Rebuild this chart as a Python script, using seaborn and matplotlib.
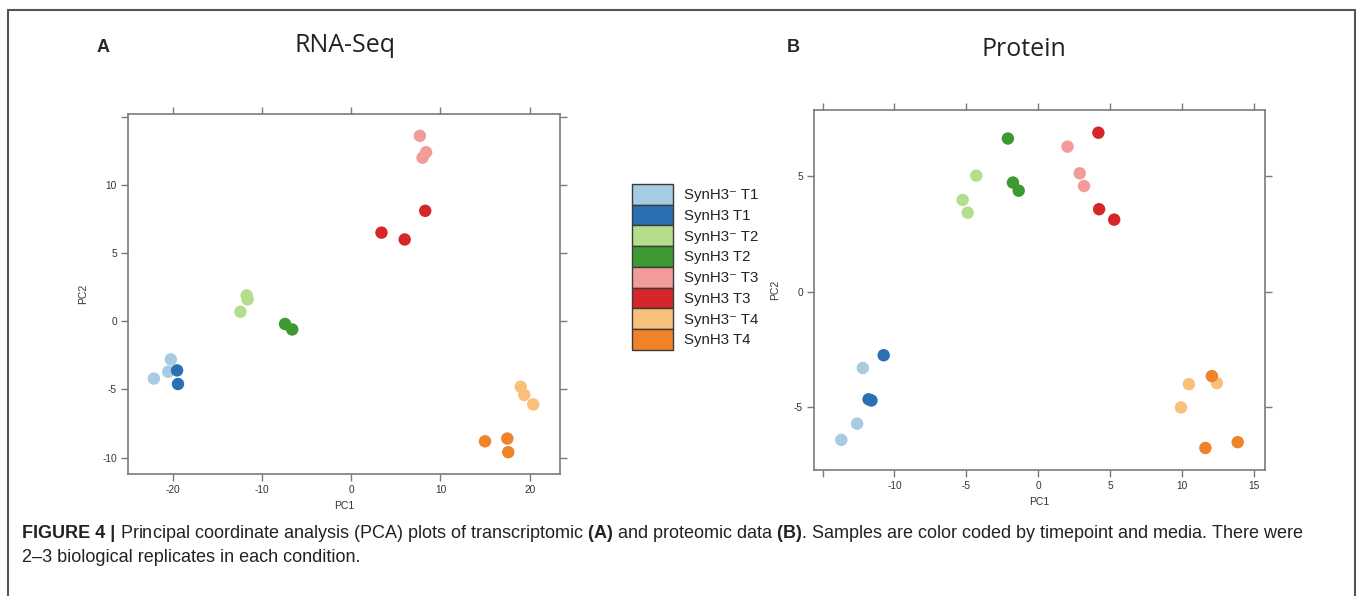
import matplotlib
matplotlib.use("Agg")
import matplotlib.pyplot as plt
import seaborn as sns
import pandas as pd
from matplotlib.patches import Patch
from matplotlib.lines import Line2D

# ---------------- data ----------------
groups = ["SynH3\u207b T1", "SynH3 T1", "SynH3\u207b T2", "SynH3 T2",
          "SynH3\u207b T3", "SynH3 T3", "SynH3\u207b T4", "SynH3 T4"]
colors = ["#a6cbe3", "#2b70b2", "#b5de8c", "#3d9a32",
          "#f29b9b", "#d7262a", "#f8c07a", "#f0822a"]

rna_group = ([0] * 3 + [1] * 2 + [2] * 3 + [3] * 2 + [4] * 3 + [5] * 3 + [6] * 3 + [7] * 3)
rna_pc1 = [-20.2, -20.5, -22.1, -19.5, -19.4, -11.7, -11.6, -12.4, -7.4, -6.6,
           7.7, 8.4, 8.0, 3.4, 6.0, 8.3, 19.0, 19.4, 20.4, 15.0, 17.5, 17.6]
rna_pc2 = [-2.8, -3.7, -4.2, -3.6, -4.6, 1.9, 1.6, 0.7, -0.2, -0.6,
           13.6, 12.4, 12.0, 6.5, 6.0, 8.1, -4.8, -5.4, -6.1, -8.8, -8.6, -9.6]

prot_group = ([0] * 3 + [1] * 3 + [2] * 3 + [3] * 3 + [4] * 3 + [5] * 3 + [6] * 3 + [7] * 3)
prot_pc1 = [-12.2, -12.6, -13.7, -10.75, -11.8, -11.6, -4.3, -5.25, -4.9, -2.1, -1.75, -1.35,
            2.05, 2.9, 3.2, 4.2, 4.25, 5.3, 10.5, 12.45, 9.95, 12.1, 11.65, 13.9]
prot_pc2 = [-3.3, -5.7, -6.4, -2.75, -4.65, -4.7, 5.0, 3.95, 3.4, 6.6, 4.7, 4.35,
            6.25, 5.1, 4.55, 6.85, 3.55, 3.1, -4.0, -3.95, -5.0, -3.65, -6.75, -6.5]

rna_xticks = [-20, -10, 0, 10, 20]
rna_yticks = [-10, -5, 0, 5, 10, 15]
prot_xticks = [-15, -10, -5, 0, 5, 10, 15]
prot_yticks = [-5, 0, 5]

# ---------------- figure ----------------
sns.set_theme(style="white")
plt.rcParams["font.family"] = ["Liberation Sans", "DejaVu Sans"]
plt.rcParams["mathtext.fontset"] = "custom"
plt.rcParams["mathtext.rm"] = "Liberation Sans"
plt.rcParams["mathtext.bf"] = "Liberation Sans:bold"

fig = plt.figure(figsize=(13.58, 5.96), dpi=100)
W, H = 1358, 596

def ax_at(l, t, r, b):
    return fig.add_axes([l / W, 1 - b / H, (r - l) / W, (b - t) / H])

axA = ax_at(128, 114, 560, 474)
axB = ax_at(814, 110, 1265, 470)

palette = {g: c for g, c in zip(groups, colors)}

dfA = pd.DataFrame({"PC1": rna_pc1, "PC2": rna_pc2,
                    "group": [groups[i] for i in rna_group]})
dfB = pd.DataFrame({"PC1": prot_pc1, "PC2": prot_pc2,
                    "group": [groups[i] for i in prot_group]})

for ax, df in ((axA, dfA), (axB, dfB)):
    sns.scatterplot(data=df, x="PC1", y="PC2", hue="group", hue_order=groups,
                    palette=palette, s=80, linewidth=0, ax=ax, legend=False)

def lattice(ax, xlim, ylim, xt, yt, xlab_hide=(), ylab_hide=()):
    ax.set_xlim(*xlim)
    ax.set_ylim(*ylim)
    ax.set_xticks(xt)
    ax.set_yticks(yt)
    ax.set_xticklabels(["" if v in xlab_hide else str(v) for v in xt])
    ax.set_yticklabels(["" if v in ylab_hide else str(v) for v in yt])
    for sp in ax.spines.values():
        sp.set_visible(True)
        sp.set_color("#7a7a7a")
        sp.set_linewidth(1.2)
    ax.tick_params(axis="both", which="both", direction="out", length=5, width=1,
                   color="#7a7a7a", labelsize=7.3, labelcolor="#333333",
                   top=True, right=True, bottom=True, left=True,
                   labeltop=False, labelright=False, pad=3)
    ax.set_xlabel("PC1", fontsize=7.5, color="#333333", labelpad=4)
    ax.set_ylabel("PC2", fontsize=7.5, color="#333333", labelpad=10)
    ax.grid(False)

lattice(axA, (-25.0, 23.4), (-11.2, 15.2), rna_xticks, rna_yticks, ylab_hide=(15,))
lattice(axB, (-15.6, 15.8), (-7.7, 7.83), prot_xticks, prot_yticks, xlab_hide=(-15,))

# legend
handles = [Patch(facecolor=c, edgecolor="#3a3a3a", linewidth=1.0) for c in colors]
fig.legend(handles, groups, loc="upper left", bbox_to_anchor=(620 / W, 1 - 172 / H),
           frameon=False, labelspacing=0.0, handlelength=2.7,
           handleheight=1.75, handletextpad=0.75, borderpad=0.3, labelcolor="#222222",
           prop={"family": ["Liberation Sans", "DejaVu Sans"], "size": 10.8})

# titles and panel letters
fig.text(345 / W, 1 - 45 / H, "RNA-Seq", fontsize=18, family=["Open Sans", "DejaVu Sans"],
         ha="center", va="center", color="#222222")
fig.text(1024 / W, 1 - 50 / H, "Protein", fontsize=18, family=["Open Sans", "DejaVu Sans"],
         ha="center", va="center", color="#222222")
fig.text(103 / W, 1 - 47 / H, "A", fontsize=13, fontweight="bold", ha="center", va="center")
fig.text(793 / W, 1 - 47 / H, "B", fontsize=13, fontweight="bold", ha="center", va="center")

# outer frame
for xs, ys in (([8, 8], [10, H]), ([8, 1355], [10, 10]), ([1355, 1355], [10, H])):
    fig.add_artist(Line2D([x / W for x in xs], [1 - y / H for y in ys],
                          color="#555555", linewidth=1.5))

# caption
cap_fs = 13.0
cap_y1 = 1 - 533 / H
cap_y2 = 1 - 557 / H
t1 = fig.text(22 / W, cap_y1, "FIGURE 4 | ", fontsize=cap_fs, fontweight="bold",
              ha="left", va="center", color="#222222")
fig.canvas.draw()
bb = t1.get_window_extent()
x_next = bb.x1 / W
fig.text(x_next, cap_y1,
         "Principal coordinate analysis (PCA) plots of transcriptomic $\\mathbf{(A)}$ and proteomic data "
         "$\\mathbf{(B)}$. Samples are color coded by timepoint and media. There were",
         fontsize=cap_fs, ha="left", va="center", color="#222222")
fig.text(22 / W, cap_y2, "2\u20133 biological replicates in each condition.",
         fontsize=cap_fs, ha="left", va="center", color="#222222")

fig.savefig("out.png", dpi=100, facecolor="white")
